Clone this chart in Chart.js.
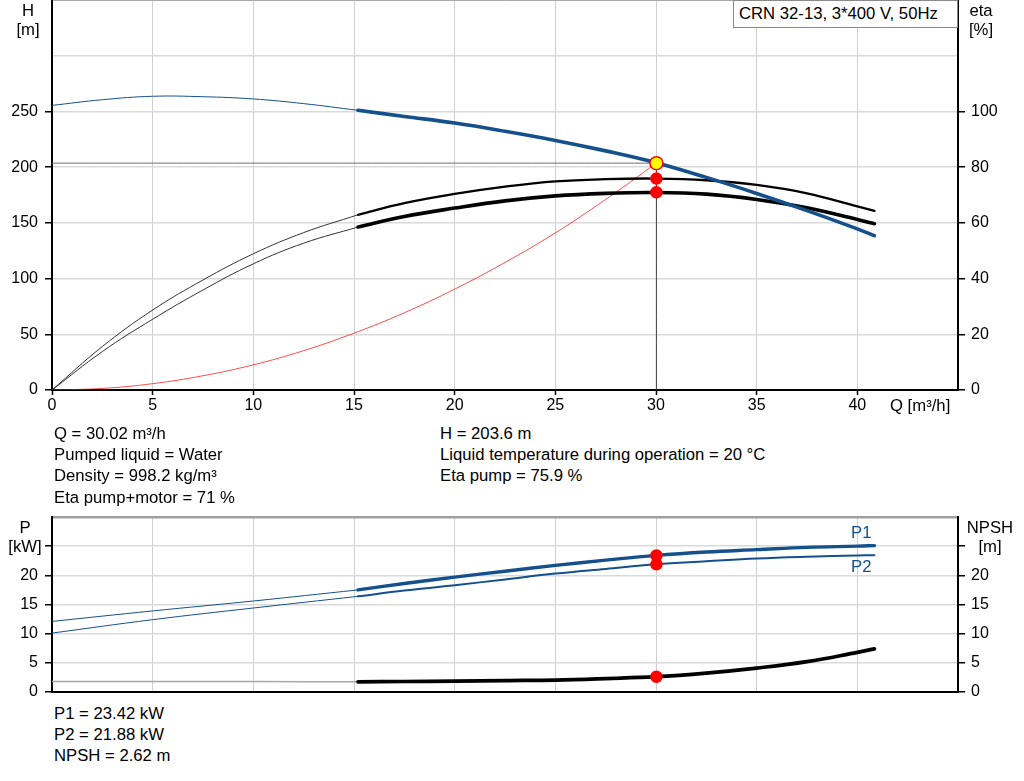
<!DOCTYPE html>
<html>
<head>
<meta charset="utf-8">
<script src="https://cdn.jsdelivr.net/npm/chart.js@4.4.1/dist/chart.umd.min.js"></script>
<style>
  body { margin: 0; background: #fff; }
  #page { position: relative; width: 1024px; height: 781px; overflow: hidden;
          font-family: "Liberation Sans", Arial, sans-serif; font-size: 16.7px; color: #000; }
  canvas { position: absolute; left: 0; }
  .txt { position: absolute; white-space: nowrap; line-height: 21.2px; z-index: 2; }
  .unit { position: absolute; width: 70px; text-align: center; line-height: 19px; z-index: 2; }
  #typeBox { position: absolute; left: 733px; top: 0; width: 225px; height: 28px; box-sizing: border-box;
             border: 1px solid #8a8a8a; background: #fff; padding-left: 5px; line-height: 26px; z-index: 2; }
  .blue { color: #14508c; }
</style>
</head>
<body>
<div id="page">
  <canvas id="curveTop" width="1024" height="420" style="top:0"></canvas>
  <canvas id="curveBottom" width="1024" height="200" style="top:500px"></canvas>

  <div id="typeBox">CRN 32-13, 3*400 V, 50Hz</div>

  <!-- axis titles -->
  <div class="unit" style="left:-7px; top:1px">H<br>[m]</div>
  <div class="unit" style="left:946px; top:1px">eta<br>[%]</div>
  <div class="txt" style="left:890px; top:395px">Q [m³/h]</div>
  <div class="unit" style="left:-10px; top:518px">P<br>[kW]</div>
  <div class="unit" style="left:955px; top:518px">NPSH<br>[m]</div>
  <div class="txt blue" style="left:851px; top:522px">P1</div>
  <div class="txt blue" style="left:851px; top:556px">P2</div>

  <!-- duty point readout -->
  <div class="txt" style="left:54px; top:423px">Q = 30.02 m³/h<br>Pumped liquid = Water<br>Density = 998.2 kg/m³<br>Eta pump+motor = 71 %</div>
  <div class="txt" style="left:440px; top:423px">H = 203.6 m<br>Liquid temperature during operation = 20 °C<br>Eta pump = 75.9 %</div>
  <div class="txt" style="left:54px; top:703px">P1 = 23.42 kW<br>P2 = 21.88 kW<br>NPSH = 2.62 m</div>
</div>

<script>
// flow points, m3/h. Curves are thin below 15.2 and thick in the operating range
const qLow = [0, 2.5, 5, 7.5, 10, 12.5, 15.2];
const qHigh = [15.2, 17.5, 20, 22.5, 25, 27.5, 30, 32.5, 35, 37.5, 40, 40.85];

// head, m
const headLow = [255.4, 260.5, 263.6, 263.2, 261.2, 257, 251];
const headHigh = [251, 245.5, 239.6, 232.2, 224, 214.6, 204, 190.8, 176.4, 161, 144.6, 138.5];

// efficiency, %
const etaPumpLow = [0, 15.6, 28.7, 39.5, 48.9, 56.5, 62.9];
const etaPumpHigh = [62.9, 67.1, 70.4, 73, 74.9, 75.7, 75.9, 75.3, 73.6, 70.6, 65.9, 64.3];
const etaTotalLow = [0, 13.8, 25.4, 35.9, 45.3, 52.7, 58.5];
const etaTotalHigh = [58.5, 62.3, 65.3, 67.9, 69.7, 70.6, 70.9, 70.3, 68.4, 65.4, 61.2, 59.7];

// system curve through the duty point
const qSystem = [0, 2.5, 5, 7.5, 10, 12.5, 15, 17.5, 20, 22.5, 25, 27.5, 30.02];
const headSystem = [0, 1.4, 5.7, 12.8, 22.6, 35.3, 51, 69.3, 90.5, 114.5, 141, 171, 203.6];

// power, kW and NPSH, m
const qPowerLow = [0, 5, 10, 15.2];
const p1Low = [12.1, 13.9, 15.6, 17.5];
const p2Low = [10.1, 12.4, 14.4, 16.4];
const npshLow = [1.8, 1.8, 1.78, 1.75];
const p1High = [17.5, 18.6, 19.7, 20.7, 21.7, 22.6, 23.42, 24.0, 24.4, 24.8, 25.0, 25.1];
const p2High = [16.4, 17.4, 18.3, 19.3, 20.3, 21.1, 21.88, 22.4, 22.9, 23.2, 23.4, 23.45];
const npshHigh = [1.75, 1.8, 1.85, 1.95, 2.05, 2.3, 2.62, 3.25, 4.1, 5.2, 6.8, 7.4];

// duty point
const dutyQ = 30.02;
const dutyH = 203.6;
const dutyEta = [75.9, 71];
const dutyPower = [23.42, 21.88];
const dutyNpsh = 2.62;

// tick labels that are printed (the others stay blank for the unit titles)
const qTickLabels = [0, 5, 10, 15, 20, 25, 30, 35, 40];
const headTickLabels = [0, 50, 100, 150, 200, 250];
const etaTickLabels = [0, 20, 40, 60, 80, 100];
const powerTickLabels = [0, 5, 10, 15, 20];

const BLUE = '#14508c';
const tickFont = { family: '"Liberation Sans", Arial, sans-serif', size: 16 };

function pts(xs, ys) {
  return xs.map((x, i) => ({ x: x, y: ys[i] }));
}

function line(xs, ys, color, width, axis) {
  return {
    data: pts(xs, ys), yAxisID: axis, borderColor: color, borderWidth: width,
    pointRadius: 0, fill: false, tension: 0.4, borderCapStyle: 'round'
  };
}

function dots(xs, ys, fillColor, radius, axis) {
  return {
    data: pts(xs, ys), yAxisID: axis, showLine: false, pointRadius: radius,
    pointBackgroundColor: fillColor, pointBorderColor: '#ff0000', pointBorderWidth: 1.5
  };
}

// fixed axis sizes so the plot area sits where the original has it
function fixWidth(w) {
  return function (s) { s.width = w; s.paddingTop = 0; s.paddingBottom = 0; };
}
function fixHeight(h) {
  return function (s) { s.height = h; s.paddingLeft = 0; s.paddingRight = 0; };
}

function yAxis(pos, max, step, labels, tickMax, width, gridTop, gridTopWidth) {
  return {
    type: 'linear', position: pos, min: 0, max: max,
    afterFit: fixWidth(width),
    ticks: {
      stepSize: step, font: tickFont, color: '#000', padding: pos == 'left' ? 7 : 6,
      callback: v => labels.includes(v) ? v : ''
    },
    grid: {
      drawOnChartArea: pos == 'left',
      color: ctx => ctx.tick && ctx.tick.value == max ? gridTop : '#dadada',
      lineWidth: ctx => ctx.tick && ctx.tick.value == max ? gridTopWidth : 1.5,
      tickLength: 7, tickWidth: 1.5,
      tickColor: ctx => ctx.tick && ctx.tick.value <= tickMax ? '#000' : 'rgba(0,0,0,0)'
    },
    border: { color: '#000', width: 2 }
  };
}

const baseOptions = {
  responsive: false,
  animation: false,
  events: [],
  plugins: { legend: { display: false }, tooltip: { enabled: false } }
};

// H / eta chart
new Chart(document.getElementById('curveTop'), {
  type: 'line',
  data: {
    datasets: [
      dots([dutyQ], [dutyH], '#ffff00', 6.5, 'y'),
      dots([dutyQ, dutyQ], dutyEta, '#ff0000', 5.5, 'eta'),
      line(qHigh, headHigh, BLUE, 3.6, 'y'),
      line(qHigh, etaPumpHigh, '#000', 2.3, 'eta'),
      line(qHigh, etaTotalHigh, '#000', 3.6, 'eta'),
      line(qLow, headLow, BLUE, 1, 'y'),
      line(qLow, etaPumpLow, '#333', 1, 'eta'),
      line(qLow, etaTotalLow, '#333', 1, 'eta'),
      line(qSystem, headSystem, 'rgba(255,0,0,0.7)', 1, 'y'),
      line([0, dutyQ], [dutyH, dutyH], '#707070', 1, 'y'),
      line([dutyQ, dutyQ], [dutyH, 0], '#404040', 1, 'y')
    ]
  },
  options: Object.assign({}, baseOptions, {
    layout: { padding: 0, autoPadding: false },
    scales: {
      x: {
        type: 'linear', min: 0, max: 45,
        afterFit: fixHeight(30),
        ticks: {
          stepSize: 5, autoSkip: false, maxRotation: 0, padding: 1, font: tickFont, color: '#000',
          callback: v => qTickLabels.includes(v) ? v : ''
        },
        grid: {
          color: '#cfcfcf', lineWidth: 1, tickLength: 5, tickWidth: 1.5,
          tickColor: ctx => ctx.tick && qTickLabels.includes(ctx.tick.value) ? '#000' : 'rgba(0,0,0,0)'
        },
        border: { color: '#000', width: 2 }
      },
      y: yAxis('left', 350, 50, headTickLabels, 250, 52, '#a8a8a8', 1),
      eta: yAxis('right', 140, 20, etaTickLabels, 100, 66, '#a8a8a8', 1)
    }
  })
});

// P / NPSH chart
new Chart(document.getElementById('curveBottom'), {
  type: 'line',
  data: {
    datasets: [
      dots([dutyQ, dutyQ], dutyPower, '#ff0000', 5.5, 'p'),
      dots([dutyQ], [dutyNpsh], '#ff0000', 5.5, 'npsh'),
      line(qHigh, p1High, BLUE, 3.4, 'p'),
      line(qHigh, p2High, BLUE, 2, 'p'),
      line(qHigh, npshHigh, '#000', 3.7, 'npsh'),
      line(qPowerLow, p1Low, BLUE, 1, 'p'),
      line(qPowerLow, p2Low, BLUE, 1, 'p'),
      line(qPowerLow, npshLow, '#a8a8a8', 1.5, 'npsh')
    ]
  },
  options: Object.assign({}, baseOptions, {
    layout: { padding: { top: 17 }, autoPadding: false },
    scales: {
      x: {
        type: 'linear', min: 0, max: 45,
        afterFit: fixHeight(8),
        ticks: { stepSize: 5, display: false },
        grid: { color: '#cfcfcf', lineWidth: 1, drawTicks: false },
        border: { color: '#000', width: 2 }
      },
      p: yAxis('left', 30, 5, powerTickLabels, 25, 52, '#a0a0a0', 2.5),
      npsh: yAxis('right', 30, 5, powerTickLabels, 25, 66, '#a0a0a0', 2.5)
    }
  })
});
</script>
</body>
</html>
